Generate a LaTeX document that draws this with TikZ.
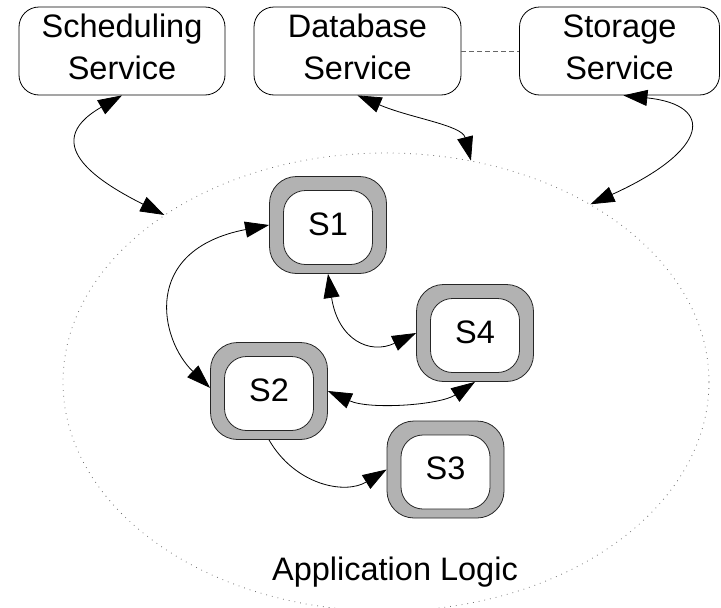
\documentclass[tikz,border=0pt]{standalone}
\usepackage{fontspec}
\setmainfont{Liberation Sans}
\usetikzlibrary{arrows.meta,shapes.geometric}
\begin{document}
\begin{tikzpicture}[x=1pt,y=-1pt,
  svc/.style={draw=black, line width=0.8pt, rounded corners=20pt, minimum height=88pt, inner sep=0pt, align=center, font=\fontsize{32.5}{42}\selectfont},
  outerbox/.style={draw=black!85, line width=0.8pt, fill=black!30, rounded corners=27pt, minimum width=117pt, minimum height=97pt, inner sep=0pt},
  innerbox/.style={draw=black!85, line width=0.8pt, fill=white, rounded corners=22pt, minimum width=89pt, minimum height=74pt, inner sep=0pt, text height=23.3pt, text depth=8pt, font=\fontsize{32.5}{39}\selectfont},
  conn/.style={draw=black, line width=0.8pt},
  onearr/.style={-{Triangle[length=24pt,width=16pt]}},
  twoarr/.style={{Triangle[length=24pt,width=16pt]}-{Triangle[length=24pt,width=16pt]}},
  lbl/.style={font=\fontsize{32.5}{39}\selectfont}
]
\useasboundingbox (0,0) rectangle (721,608);
% application logic region
\node[ellipse, draw=black!55, line width=0.8pt, dash pattern=on 0.8pt off 5pt, minimum width=646pt, minimum height=458pt, inner sep=0pt] (app) at (386,382) {};
\node[lbl, anchor=base] (applbl) at (395,580) {Application Logic};

% services
\node[svc, minimum width=206pt] (sched) at (122,51) {Scheduling\\Service\rule[-8pt]{0pt}{0pt}};
\node[svc, minimum width=207pt] (db) at (357.5,51) {Database\\Service\rule[-8pt]{0pt}{0pt}};
\node[svc, minimum width=200pt] (stor) at (619.5,51) {Storage\\Service\rule[-8pt]{0pt}{0pt}};
\draw[black!60, line width=0.8pt, dash pattern=on 5pt off 3pt] (db.east) -- (stor.west);

% S boxes
\node[outerbox] (s1) at (328,225) {};
\node[innerbox] (s1in) at (328,227.5) {S1};
\node[outerbox] (s2) at (269,391) {};
\node[innerbox] (s2in) at (269,393.5) {S2};
\node[outerbox] (s4) at (475,333) {};
\node[innerbox] (s4in) at (475,335.5) {S4};
\node[outerbox] (s3) at (445.5,469.5) {};
\node[innerbox] (s3in) at (445.5,472) {S3};

% connectors
\draw[conn,twoarr] (sched.south) .. controls (35,145) and (105,185) .. (app.143.7);
\draw[conn,twoarr] (db.south) .. controls (410,118) and (462,125) .. (app.69);
\draw[conn,twoarr] (stor.-85) .. controls (715,105) and (710,150) .. (app.41.3);

\draw[conn,twoarr] (s1.west) .. controls (140,250) and (160,340) .. (s2.177);
\draw[conn,twoarr] (s1.south) .. controls (338,340) and (370,355) .. (s4.west);
\draw[conn,twoarr] (s2.east) .. controls (370,410) and (440,405) .. (s4.south);
\draw[conn,onearr] (s2.south) .. controls (295,485) and (345,495) .. (s3.west);
\end{tikzpicture}
\end{document}
